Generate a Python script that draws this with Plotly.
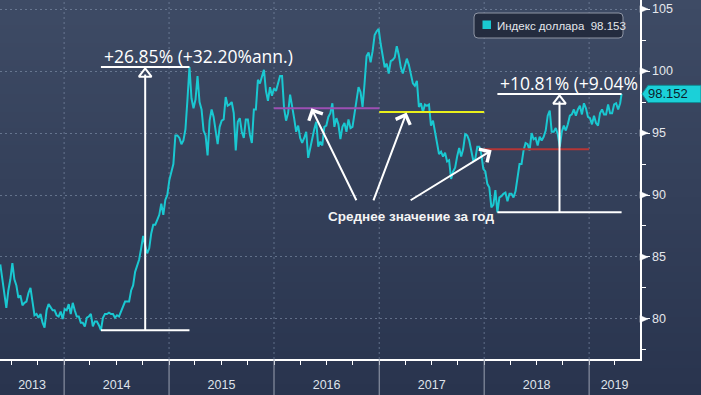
import base64
import struct
import zlib

import pandas as pd
import plotly.graph_objects as go

# ---------------- data (weekly closes) ----------------
years = [2013, 2014, 2015, 2016, 2017, 2018, 2019]
first_friday = "2013-05-24"

dxy_2013 = [84.4, 83.2, 81.7, 80.9, 82.3, 83.2, 84.5, 83.2, 82.7, 81.7, 81.9, 81.1,
            81.3, 81.4, 82.1, 82.5, 81.4, 80.3, 80.4, 80.1, 80.4, 79.7, 79.3, 80.7,
            81.2, 80.9, 80.7, 80.7, 80.3, 80.2, 80.6, 80.0]
dxy_2014 = [80.8, 80.7, 81.2, 80.4, 81.3,
            80.7, 80.2, 80.2, 79.7,
            79.7, 79.4, 80.1, 80.2,
            80.4, 79.4, 79.8, 79.8,
            79.5, 79.09, 80.1, 80.4, 80.4,
            80.5, 80.4, 80.4, 80.1,
            80.3, 80.2, 80.6, 81.0,
            81.4, 81.4, 81.4, 82.3, 82.7,
            83.8, 84.3, 84.8, 85.7,
            86.7, 85.9, 85.3, 85.7, 86.9,
            87.6, 87.6, 88.0, 88.4,
            89.3, 88.4, 89.6, 90.0]
dxy_2015 = [91.2, 91.9, 92.5, 94.8, 94.8,
            94.6, 94.1, 94.4, 95.3,
            97.7, 100.33, 97.8, 97.0,
            97.7, 99.6, 97.5, 96.9,
            95.2, 94.8, 93.2, 96.0, 96.9,
            96.3, 95.2, 94.1, 95.5,
            96.0, 96.1, 97.9, 97.2, 97.3,
            97.5, 96.6, 93.6, 95.9,
            96.2, 95.1, 94.6, 96.1,
            96.1, 94.9, 94.2, 96.9, 96.9,
            99.3, 99.0, 99.6, 100.1,
            98.4, 97.6, 98.7, 98.0]
dxy_2016 = [98.6, 98.4, 99.0, 99.6, 99.6,
            97.0, 96.0, 96.6, 98.1,
            97.3, 96.2, 95.1, 95.6,
            94.6, 94.2, 94.6, 95.1, 93.0,
            93.8, 94.6, 95.3, 95.9,
            93.9, 94.3, 94.0, 95.5,
            95.6, 96.3, 96.6, 97.4, 95.5,
            96.2, 95.7, 94.5, 95.5,
            95.8, 95.1, 96.1, 95.4, 95.5,
            96.6, 98.0, 98.7, 98.3,
            97.1, 99.0, 101.2, 101.5,
            100.7, 101.6, 102.9, 103.2, 103.4]
dxy_2017 = [102.2, 101.2, 100.3, 100.6,
            99.8, 100.8, 100.9, 101.1,
            102.0, 101.3, 100.3, 99.8, 100.4,
            101.0, 100.5, 99.8, 99.0,
            98.8, 99.2, 97.1, 97.4,
            96.7, 97.3, 97.2, 97.3, 95.6,
            96.0, 95.1, 94.0, 93.3,
            93.5, 93.1, 93.4, 92.7,
            92.8, 91.3, 91.9, 92.2, 93.1,
            93.8, 93.1, 93.7, 94.9,
            94.8, 94.4, 93.6, 92.8,
            92.9, 93.9, 93.9, 93.3, 92.1]
dxy_2018 = [91.9, 90.9, 90.6, 89.0,
            89.2, 90.4, 88.6, 89.8,
            89.9, 90.1, 90.2, 89.5, 90.1,
            90.1, 89.8, 90.3, 91.5,
            92.5, 92.5, 93.6, 94.2,
            94.1, 93.6, 95.0, 94.5, 94.6,
            94.0, 94.7, 94.4, 94.7,
            95.2, 96.4, 96.8, 95.1, 95.1,
            95.4, 94.9, 93.9, 95.1,
            95.6, 95.2, 95.7, 96.4,
            96.5, 96.9, 96.4, 96.9, 97.2,
            96.5, 97.4, 97.0, 96.3]
dxy_2019 = [96.2, 95.7, 96.4, 95.8, 95.6, 96.6, 96.9, 96.5,
            96.5, 97.3, 96.6, 96.6, 97.3, 97.4, 96.9, 97.4]
last_date = "2019-04-24"
last_value = 98.152
legend_label = "Индекс доллара\u00a0\u00a098.153"

avg_years = [2016, 2017, 2018]
avg_values = [97.0, 96.7, 93.7]
avg_colors = ["#9d4fb3", "#e9f01c", "#b53636"]

y_ticks = [80, 85, 90, 95, 100, 105]
move1_text = "+26.85% (+32.20%ann.)"
move2_text = "+10.81% (+9.04%"
avg_text = "Среднее значение за год"

# ---------------- assemble series ----------------
weekly = dxy_2013 + dxy_2014 + dxy_2015 + dxy_2016 + dxy_2017 + dxy_2018 + dxy_2019
dates = list(pd.date_range(first_friday, periods=len(weekly), freq="W-FRI")) + [pd.Timestamp(last_date)]
values = weekly + [last_value]
s = pd.Series(values, index=pd.DatetimeIndex(dates))

# ---------------- geometry ----------------
W, H = 701, 395
ML, MR, MT, MB = 0, 61, 0, 36
PW, PH = W - ML - MR, H - MT - MB
X0, X1 = pd.Timestamp("2013-05-23"), pd.Timestamp("2019-06-27")
Y0, Y1 = 76.77, 105.73
UPP = (Y1 - Y0) / PH  # data units per pixel (y)


def pxx(px):
    return px / PW


def pxy(py):
    return 1 - py / PH


BG_TOP = (62, 75, 101)
BG_BOT = (41, 52, 78)
CYAN = "#1ac8d1"


def gradient_png(top, bottom, n=200):
    raw = b""
    for i in range(n):
        t = i / (n - 1)
        raw += b"\x00" + bytes(round(top[k] + (bottom[k] - top[k]) * t) for k in range(3))

    def chunk(tag, data):
        return (struct.pack(">I", len(data)) + tag + data
                + struct.pack(">I", zlib.crc32(tag + data) & 0xFFFFFFFF))

    png = (b"\x89PNG\r\n\x1a\n"
           + chunk(b"IHDR", struct.pack(">IIBBBBB", 1, n, 8, 2, 0, 0, 0))
           + chunk(b"IDAT", zlib.compress(raw))
           + chunk(b"IEND", b""))
    return "data:image/png;base64," + base64.b64encode(png).decode()


fig = go.Figure()
fig.add_trace(go.Scatter(x=s.index, y=s.values, mode="lines",
                         line=dict(color=CYAN, width=2), showlegend=False,
                         hoverinfo="skip"))

shapes = []
annotations = []

# year grid lines (dashed) and separators below axis
for y in years[1:]:
    d = pd.Timestamp(f"{y}-01-01")
    shapes.append(dict(type="line", xref="x", yref="paper", x0=d, x1=d, y0=0, y1=1,
                       line=dict(color="rgba(140,156,182,0.55)", width=1, dash="2px,3px"),
                       layer="below"))
    shapes.append(dict(type="line", xref="x", yref="paper", x0=d, x1=d, y0=-MB / PH, y1=0,
                       line=dict(color="#9aa1b1", width=1)))

# x label positions: centre of the visible part of each year
label_pos = []
for y in years:
    a = max(pd.Timestamp(f"{y}-01-01"), X0)
    b = min(pd.Timestamp(f"{y + 1}-01-01"), X1)
    label_pos.append(a + (b - a) / 2)

# major y ticks as small triangles
dv = 3.5 * UPP
for v in y_ticks:
    shapes.append(dict(type="path", xref="paper", yref="y",
                       path=f"M 1 {v + dv} L {1 + 8 / PW} {v} L 1 {v - dv} Z",
                       fillcolor="white", line=dict(color="white", width=0.5)))

# yearly averages
for y, v, c in zip(avg_years, avg_values, avg_colors):
    shapes.append(dict(type="line", xref="x", yref="y",
                       x0=pd.Timestamp(f"{y}-01-01"), x1=pd.Timestamp(f"{y + 1}-01-01"),
                       y0=v, y1=v, line=dict(color=c, width=2)))

# measurement brackets
tri_x, tri_y = [], []
moves = [
    (s["2014"].idxmin(), s["2014"].min(), s["2015"].idxmax(), s["2015"].max(), move1_text),
    (s["2018"].idxmin(), s["2018"].min(), s.index[-1], s.iloc[-1], move2_text),
]
for d0, lo, d1, hi, txt in moves:
    mid = d0 + (d1 - d0) / 2
    for v in (lo, hi):
        shapes.append(dict(type="line", xref="x", yref="y", x0=d0, x1=d1, y0=v, y1=v,
                           line=dict(color="white", width=2)))
    shapes.append(dict(type="line", xref="x", yref="y", x0=mid, x1=mid, y0=lo, y1=hi - 0.6,
                       line=dict(color="white", width=2)))
    tri_x.append(mid)
    tri_y.append(hi - 7 * UPP)
    annotations.append(dict(x=d0, y=hi, xref="x", yref="y", text=txt, showarrow=False,
                            xanchor="left", yanchor="bottom", xshift=1, yshift=-3,
                            font=dict(family="Open Sans", size=17.5, color="white")))

fig.add_trace(go.Scatter(x=tri_x, y=tri_y, mode="markers", showlegend=False, hoverinfo="skip",
                         marker=dict(symbol="triangle-up", size=11, color="#3a4762",
                                     line=dict(color="white", width=2))))

# arrows to the average lines
arrows = [
    ("2016-05-10", 97.0, "2016-10-16", 89.45),
    ("2017-04-06", 96.65, "2016-12-10", 89.45),
    ("2018-01-27", 93.6, "2017-04-15", 89.5),
]
for hx, hy, tx, ty in arrows:
    annotations.append(dict(x=hx, y=hy, xref="x", yref="y", ax=tx, ay=ty, axref="x", ayref="y",
                            text="", showarrow=True, arrowhead=4, arrowsize=1.5, arrowwidth=2,
                            arrowcolor="white", standoff=0))
annotations.append(dict(x="2017-04-22", y=88.3, xref="x", yref="y", text=avg_text,
                        showarrow=False, xanchor="center", yanchor="middle",
                        font=dict(family="Liberation Sans, Arial", size=13.5, color="#f4f4f4",
                                  weight="bold")))

# legend box (rounded)
lx0, lx1, ly0, ly1, r = 474, 623, 13, 38, 4
path = (f"M {pxx(lx0 + r)} {pxy(ly0)} L {pxx(lx1 - r)} {pxy(ly0)} "
        f"Q {pxx(lx1)} {pxy(ly0)} {pxx(lx1)} {pxy(ly0 + r)} L {pxx(lx1)} {pxy(ly1 - r)} "
        f"Q {pxx(lx1)} {pxy(ly1)} {pxx(lx1 - r)} {pxy(ly1)} L {pxx(lx0 + r)} {pxy(ly1)} "
        f"Q {pxx(lx0)} {pxy(ly1)} {pxx(lx0)} {pxy(ly1 - r)} L {pxx(lx0)} {pxy(ly0 + r)} "
        f"Q {pxx(lx0)} {pxy(ly0)} {pxx(lx0 + r)} {pxy(ly0)} Z")
shapes.append(dict(type="path", xref="paper", yref="paper", path=path,
                   fillcolor="#242c3f", line=dict(color="#8e95a5", width=1)))
shapes.append(dict(type="rect", xref="paper", yref="paper", x0=pxx(482.5), x1=pxx(491),
                   y0=pxy(29), y1=pxy(20.5), fillcolor=CYAN, line=dict(width=0)))
annotations.append(dict(x=pxx(495), y=pxy(25.5), xref="paper", yref="paper", text=legend_label,
                        showarrow=False, xanchor="left", yanchor="middle",
                        font=dict(family="Liberation Sans, Arial", size=11.5, color="#e4e7ec")))

# last value tag on the axis
hv = 8.6 * UPP
lv = last_value
shapes.append(dict(type="path", xref="paper", yref="y",
                   path=(f"M {pxx(642)} {lv} L {pxx(648)} {lv + hv} L {pxx(701)} {lv + hv} "
                         f"L {pxx(701)} {lv - hv} L {pxx(648)} {lv - hv} Z"),
                   fillcolor="#1bd0d8", line=dict(color="#0f8f97", width=1)))
annotations.append(dict(x=pxx(668), y=lv, xref="paper", yref="y", text=f"{last_value:.3f}",
                        showarrow=False, xanchor="center", yanchor="middle",
                        font=dict(family="Liberation Sans, Arial", size=13, color="#0b1e2e")))

fig.update_layout(
    width=W, height=H, autosize=False,
    margin=dict(l=ML, r=MR, t=MT, b=MB, pad=0),
    paper_bgcolor="rgb(52,64,90)", plot_bgcolor="rgba(0,0,0,0)",
    showlegend=False, hovermode=False,
    images=[dict(source=gradient_png(BG_TOP, BG_BOT), xref="paper", yref="paper",
                 x=0, y=1, sizex=W / PW, sizey=H / PH, xanchor="left", yanchor="top",
                 sizing="stretch", layer="below")],
    shapes=shapes, annotations=annotations,
    xaxis=dict(type="date", range=[X0, X1], tickmode="array", tickvals=label_pos,
               ticktext=[str(y) for y in years], ticks="", showgrid=False, zeroline=False,
               showline=True, linecolor="white", linewidth=1.5,
               ticklabelstandoff=13,
               tickfont=dict(family="Liberation Sans, Arial", size=12.5, color="#dfe3ea"),
               minor=dict(tickmode="linear", tick0="2013-01-01", dtick="M3", ticks="outside",
                          ticklen=4, tickcolor="white", tickwidth=1, showgrid=False)),
    yaxis=dict(side="right", range=[Y0, Y1], tickmode="array", tickvals=y_ticks,
               ticks="outside", ticklen=8, tickcolor="white", tickwidth=1,
               showline=True, linecolor="white", linewidth=1.5, zeroline=False,
               showgrid=True, gridcolor="rgba(140,156,182,0.55)", gridwidth=1,
               griddash="2px,3px",
               tickfont=dict(family="Liberation Sans, Arial", size=12.5, color="#e4e7ec"),
               minor=dict(tickmode="linear", tick0=0, dtick=2.5, ticks="outside",
                          ticklen=4, tickcolor="white", tickwidth=1, showgrid=False)),
)

fig.write_html("out.html", config={"displayModeBar": False, "staticPlot": True},
               post_script="document.body.style.margin='0px';document.body.style.padding='0px';")
